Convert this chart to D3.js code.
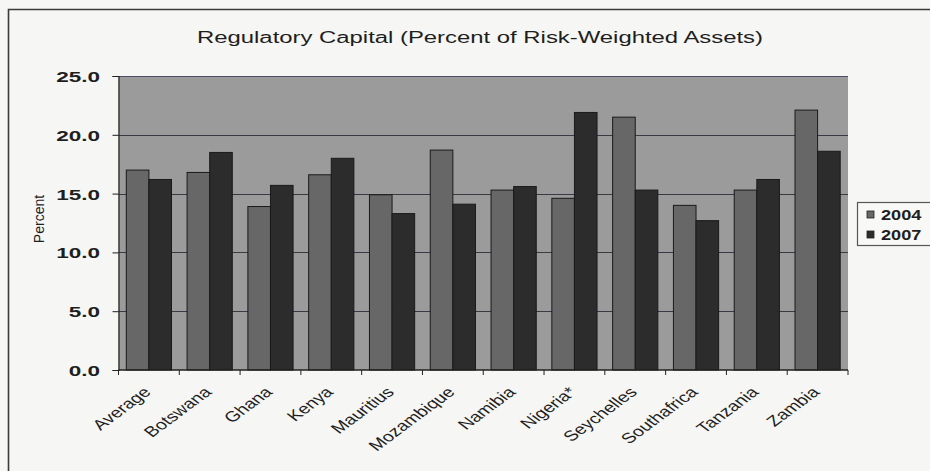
<!DOCTYPE html>
<html>
<head>
<meta charset="utf-8">
<script src="https://cdn.jsdelivr.net/npm/d3@7"></script>
<style>
  html, body { margin: 0; padding: 0; background: #f6f6f4; }
  svg { display: block; }
  text { font-family: "Liberation Sans", Arial, sans-serif; fill: #1e1e1e; }
</style>
</head>
<body>
<svg id="chart" width="930" height="471"></svg>
<script>
// Regulatory capital ratios by country, 2004 vs 2007
const categories = ["Average", "Botswana", "Ghana", "Kenya", "Mauritius", "Mozambique",
  "Namibia", "Nigeria*", "Seychelles", "Southafrica", "Tanzania", "Zambia"];
const seriesNames = ["2004", "2007"];
const values2004 = [17.0, 16.8, 13.9, 16.6, 14.9, 18.7, 15.3, 14.6, 21.5, 14.0, 15.3, 22.1];
const values2007 = [16.2, 18.5, 15.7, 18.0, 13.3, 14.1, 15.6, 21.9, 15.3, 12.7, 16.2, 18.6];
const yTicks = [0, 5, 10, 15, 20, 25];
const titleText = "Regulatory Capital (Percent of Risk-Weighted Assets)";
const yLabel = "Percent";

const colors = { "2004": "#676767", "2007": "#2c2c2c" };

const svg = d3.select("#chart");
const plot = { left: 118.5, right: 848, top: 76, bottom: 370 };

// outer frame (top and left edges)
svg.append("path")
  .attr("d", "M8.5,471 L8.5,9.5 L930,9.5")
  .attr("fill", "none").attr("stroke", "#3a3a3a").attr("stroke-width", 1.6);

const x0 = d3.scaleBand().domain(categories).range([plot.left, plot.right]).paddingInner(0).paddingOuter(0);
const x1 = d3.scaleBand().domain(seriesNames).range([0, x0.bandwidth()]).paddingInner(0).paddingOuter(0.345);
const y = d3.scaleLinear().domain([0, 25]).range([plot.bottom, plot.top]);

// plot area background
svg.append("rect")
  .attr("x", plot.left).attr("y", plot.top)
  .attr("width", plot.right - plot.left).attr("height", plot.bottom - plot.top)
  .attr("fill", "#9b9b9b");

// horizontal gridlines
svg.append("g").selectAll("line").data(yTicks.filter(d => d > 0)).join("line")
  .attr("x1", plot.left).attr("x2", plot.right)
  .attr("y1", d => Math.round(y(d)) + 0.5).attr("y2", d => Math.round(y(d)) + 0.5)
  .attr("stroke", d => d === 25 ? "#4a4f66" : "#3a3a44").attr("stroke-width", 1.1);

// bars
const rows = categories.map((c, i) => ({ c, v: { "2004": values2004[i], "2007": values2007[i] } }));
const groups = svg.append("g").selectAll("g").data(rows).join("g")
  .attr("transform", d => `translate(${x0(d.c)},0)`);
groups.selectAll("rect").data(d => seriesNames.map(s => ({ s, v: d.v[s] }))).join("rect")
  .attr("x", d => x1(d.s)).attr("width", x1.bandwidth())
  .attr("y", d => y(d.v)).attr("height", d => y(0) - y(d.v))
  .attr("fill", d => colors[d.s])
  .attr("stroke", "#1a1a1a").attr("stroke-width", 1);

// y axis
const yAxis = svg.append("g").attr("transform", `translate(${plot.left},0)`)
  .call(d3.axisLeft(y).tickValues(yTicks).tickSize(6).tickFormat(d3.format(".1f")).tickPadding(8));
yAxis.select(".domain").attr("stroke", "#222").attr("stroke-width", 1.2);
yAxis.selectAll(".tick line").attr("stroke", "#222");
yAxis.selectAll(".tick text").each(function () {
  d3.select(this).attr("x", null).attr("dy", null).attr("text-anchor", "end")
    .attr("font-size", 15).attr("font-weight", "bold").attr("fill", "#2a2a2a")
    .attr("transform", "translate(-18.5,5.5) scale(1.5,1)");
});

// x axis with boundary ticks
const xAxisG = svg.append("g").attr("transform", `translate(0,${plot.bottom})`);
xAxisG.append("line").attr("x1", plot.left).attr("x2", plot.right)
  .attr("stroke", "#222").attr("stroke-width", 1.4);
const bounds = d3.range(categories.length + 1).map(i => plot.left + i * x0.step());
xAxisG.selectAll("line.tk").data(bounds).join("line").attr("class", "tk")
  .attr("x1", d => d).attr("x2", d => d).attr("y1", 0).attr("y2", 5)
  .attr("stroke", "#222");
xAxisG.selectAll("text").data(categories).join("text")
  .attr("transform", d => `translate(${x0(d) + x0.bandwidth() / 2 + 3},${23}) scale(1.35,1) rotate(-45)`)
  .attr("text-anchor", "end").attr("font-size", 14.5).attr("fill", "#161616")
  .text(d => d);

// title
svg.append("text")
  .attr("x", 480).attr("y", 43)
  .attr("text-anchor", "middle").attr("font-size", 16)
  .attr("textLength", 566).attr("lengthAdjust", "spacingAndGlyphs")
  .text(titleText);

// y axis title
svg.append("text")
  .attr("transform", "translate(44,219) rotate(-90)")
  .attr("text-anchor", "middle").attr("font-size", 14)
  .text(yLabel);

// legend
const lg = svg.append("g").attr("transform", "translate(857,202)");
lg.append("rect").attr("x", 0.5).attr("y", 0.5).attr("width", 90).attr("height", 43)
  .attr("fill", "#f8f8f6").attr("stroke", "#555").attr("stroke-width", 1.2);
seriesNames.forEach((s, i) => {
  const yy = 13 + i * 20;
  lg.append("rect").attr("x", 10).attr("y", yy - 4).attr("width", 7).attr("height", 7)
    .attr("fill", colors[s]).attr("stroke", "#222").attr("stroke-width", 0.8);
  lg.append("text").attr("transform", `translate(24,${yy + 5}) scale(1.3,1)`)
    .attr("font-size", 14).attr("font-weight", "bold").attr("fill", "#2a2a2a").text(s);
});
</script>
</body>
</html>
